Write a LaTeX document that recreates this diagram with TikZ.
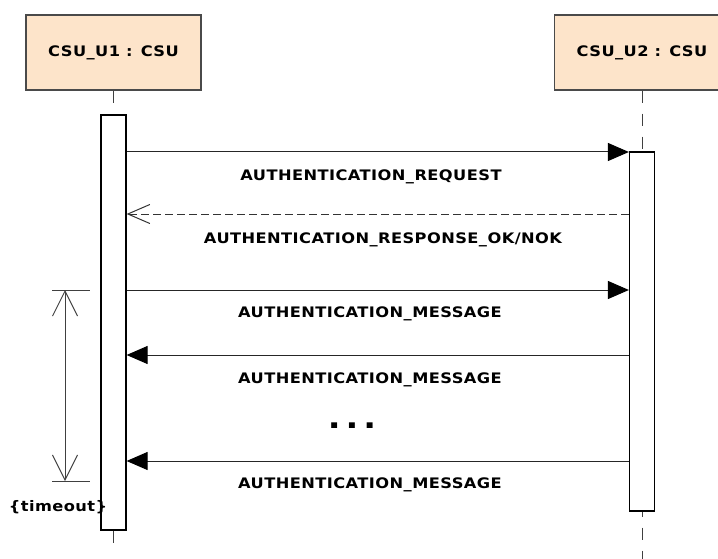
\documentclass[tikz,border=0pt]{standalone}
\usepackage{fontspec}
\newfontfamily\umlfont[FakeStretch=1.12, LetterSpace=3]{DejaVu Sans}
\usetikzlibrary{arrows.meta, positioning}
\definecolor{objpeach}{HTML}{FDE4CA}
\definecolor{objedge}{HTML}{4A4A4A}

\tikzset{
  object/.style={draw=objedge, fill=objpeach, line width=1.2pt,
    minimum width=175pt, minimum height=75pt,
    font=\umlfont\bfseries\fontsize{14.5}{17}\selectfont},
  activation/.style={draw=black, fill=white, line width=1.2pt,
    minimum width=25pt, inner sep=0pt},
  lifeline/.style={black!75, line width=1pt},
  syncmsg/.style={-{Triangle[length=21pt, width=18pt, color=black]}, line width=1pt, black!85},
  replymsg/.style={-{Straight Barb[length=22pt, width=19pt]}, line width=1pt,
    black!80, dash pattern=on 8pt off 4pt},
  msglabel/.style={font=\umlfont\bfseries\fontsize{14.5}{17}\selectfont},
}

\begin{document}
\begin{tikzpicture}[x=1pt, y=-1pt]

\clip (0,0) rectangle (718,559);

% Objects
\node[object] (u1) at (113.5,52.5) {CSU\_U1 : CSU};
\node[object] (u2) at (642,52.5) {CSU\_U2 : CSU};

% Lifelines
\coordinate (u1end) at (113.5,543);
\coordinate (u2end) at (642,559);
\draw[lifeline] (u1.south) -- (113.5,103);
\draw[lifeline, dash pattern=on 12pt off 11pt] (u2.south) -- (u2end);

% Activation bars
\node[activation, minimum height=415pt] (act1) at (113.5,322.5) {};
\node[activation, minimum height=359pt] (act2) at (642,331.5) {};
\draw[lifeline] (act1.south) -- (u1end);

% Messages
\coordinate (m1) at (0,152);
\coordinate (m2) at (0,214);
\coordinate (m3) at (0,290);
\coordinate (m4) at (0,355);
\coordinate (m5) at (0,461);

\draw[syncmsg] (act1.east |- m1) -- (act2.west |- m1);
\node[msglabel] (l1) at (371,177) {AUTHENTICATION\_REQUEST};

\draw[replymsg] (act2.west |- m2) -- (act1.east |- m2);
\node[msglabel] (l2) at (383,240) {AUTHENTICATION\_RESPONSE\_OK/NOK};

\draw[syncmsg] (act1.east |- m3) -- (act2.west |- m3);
\node[msglabel] (l3) at (370,314) {AUTHENTICATION\_MESSAGE};

\draw[syncmsg] (act2.west |- m4) -- (act1.east |- m4);
\node[msglabel] (l4) at (370,380) {AUTHENTICATION\_MESSAGE};

\node[font=\umlfont\bfseries\fontsize{30}{32}\selectfont] (dots) at (352,426) {.\hspace{5pt}.\hspace{5pt}.};

\draw[syncmsg] (act2.west |- m5) -- (act1.east |- m5);
\node[msglabel] (l5) at (370,485) {AUTHENTICATION\_MESSAGE};

% Timeout constraint
\coordinate (ttop) at (65,290);
\coordinate (tbot) at (65,481);
\draw[lifeline] (52,290) -- (90,290);
\draw[lifeline] (52,481) -- (90,481);
\draw[lifeline, {Straight Barb[length=25pt, width=25pt]}-{Straight Barb[length=25pt, width=25pt]}] (ttop) -- (tbot);
\node[msglabel] (tout) at (58,507) {\{timeout\}};

\end{tikzpicture}
\end{document}
